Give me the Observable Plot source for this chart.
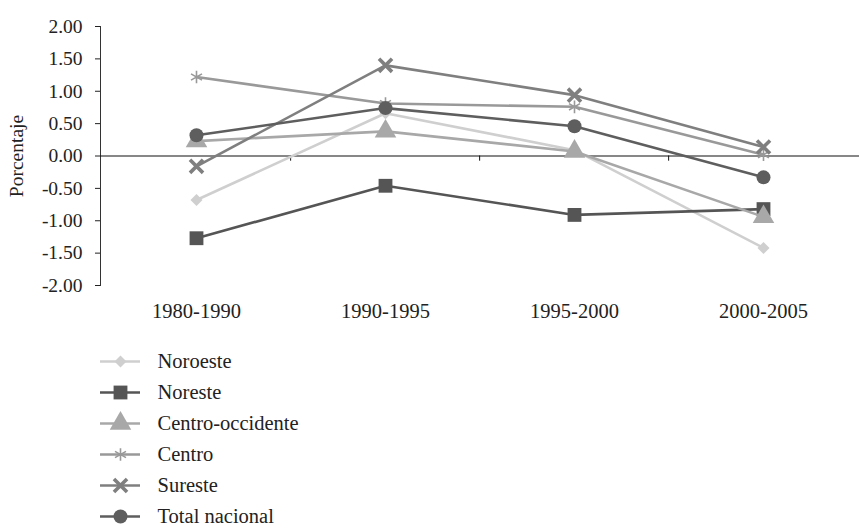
<!DOCTYPE html>
<html>
<head>
<meta charset="utf-8">
<script src="https://cdn.jsdelivr.net/npm/d3@7"></script>
<script src="https://cdn.jsdelivr.net/npm/@observablehq/plot@0.6"></script>
<style>
  html, body { margin: 0; padding: 0; background: #fff; }
  #chart { width: 859px; height: 528px; overflow: hidden; }
  svg { display: block; }
  svg text { font-family: 'Liberation Serif', 'DejaVu Serif', serif; }
</style>
</head>
<body>
<div id="chart"></div>
<script>
const categories = ["1980-1990", "1990-1995", "1995-2000", "2000-2005"];
const yTicks = [-2, -1.5, -1, -0.5, 0, 0.5, 1, 1.5, 2];
const seriesNames = ["Noroeste", "Noreste", "Centro-occidente", "Centro", "Sureste", "Total nacional"];
const noroeste = [-0.68, 0.66, 0.09, -1.42];
const noreste = [-1.27, -0.46, -0.91, -0.82];
const centroOccidente = [0.23, 0.38, 0.07, -0.94];
const centro = [1.22, 0.81, 0.76, 0.02];
const sureste = [-0.16, 1.40, 0.94, 0.14];
const totalNacional = [0.32, 0.74, 0.46, -0.33];

const values = [noroeste, noreste, centroOccidente, centro, sureste, totalNacional];
const styles = [
  {color: "#cfcfcf", symbol: "square", r: 4.8, rotate: 45, filled: true, sw: 0},
  {color: "#555555", symbol: "square", r: 7.8, rotate: 0, filled: true, sw: 0},
  {color: "#a8a8a8", symbol: "triangle", r: 8, rotate: 0, filled: true, sw: 0},
  {color: "#999999", symbol: "asterisk", r: 6, rotate: 0, filled: false, sw: 1.6},
  {color: "#7f7f7f", symbol: "times", r: 6, rotate: 0, filled: false, sw: 3.6},
  {color: "#5e5e5e", symbol: "circle", r: 7, rotate: 0, filled: true, sw: 0}
];

const table = seriesNames.flatMap((name, i) =>
  categories.map((c, j) => ({serie: name, periodo: c, valor: values[i][j]})));

const W = 859, ML = 100, MR = 0;
const step = (W - ML - MR) / categories.length;
const css = "font-family: 'Liberation Serif', 'DejaVu Serif', serif; font-size: 20px; color: #222; background: #fff;";

function dotOpts(s, extra) {
  const o = {symbol: s.symbol, r: s.r, rotate: s.rotate, ...extra};
  if (s.filled) { o.fill = s.color; o.stroke = "none"; }
  else { o.fill = "none"; o.stroke = s.color; o.strokeWidth = s.sw; }
  return o;
}

const seriesMarks = seriesNames.flatMap((name, i) => {
  const s = styles[i];
  const d = table.filter(r => r.serie === name);
  return [
    Plot.line(d, {x: "periodo", y: "valor", stroke: s.color, strokeWidth: 2.6}),
    Plot.dot(d, dotOpts(s, {x: "periodo", y: "valor"}))
  ];
});

const main = Plot.plot({
  width: W, height: 335,
  marginLeft: ML, marginRight: MR, marginTop: 26, marginBottom: 50,
  style: css,
  x: {type: "point", domain: categories, padding: 0.5, label: null},
  y: {domain: [-2, 2], label: null},
  marks: [
    Plot.frame({anchor: "left", stroke: "#333"}),
    Plot.axisY({ticks: yTicks, tickFormat: d => d.toFixed(2), tickSize: 5, tickPadding: 13,
      fontSize: 19.5, fill: "#222",
      label: "Porcentaje", labelAnchor: "center", labelArrow: "none", labelOffset: 91}),
    Plot.axisX({tickSize: 0, tickPadding: 18, fontSize: 20.5, fill: "#222"}),
    Plot.ruleY([0], {stroke: "#111", strokeWidth: 1.2}),
    Plot.ruleX(categories.slice(1), {x: d => d, y1: 0, y2: -0.08, dx: -step / 2, stroke: "#111"}),
    ...seriesMarks
  ]
});

const legendMarks = seriesNames.flatMap((name, i) => {
  const s = styles[i];
  return [
    Plot.ruleY([name], {y: d => d, insetLeft: 100, insetRight: W - 140, stroke: s.color, strokeWidth: 2.6}),
    Plot.dot([name], dotOpts(s, {y: d => d, frameAnchor: "left", dx: 120}))
  ];
});

const legend = Plot.plot({
  width: W, height: 193,
  marginLeft: 0, marginRight: 0, marginTop: 25, marginBottom: 11,
  style: css,
  y: {type: "point", domain: seriesNames, padding: 0, axis: null},
  marks: [
    ...legendMarks,
    Plot.text(seriesNames, {y: d => d, text: d => d, frameAnchor: "left", dx: 157, textAnchor: "start", fill: "#222", fontSize: 20.5})
  ]
});

const el = document.getElementById("chart");
el.appendChild(main);
el.appendChild(legend);
</script>
</body>
</html>
